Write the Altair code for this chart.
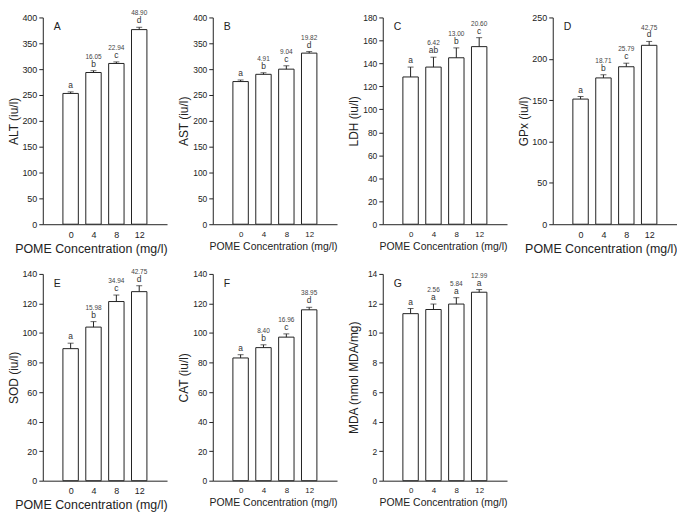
import altair as alt
import pandas as pd

conc = [0, 4, 8, 12]

panel_labels = ["A", "B", "C", "D", "E", "F", "G"]
y_titles = ["ALT (iu/l)", "AST (iu/l)", "LDH (iu/l)", "GPx (iu/l)",
            "SOD (iu/l)", "CAT (iu/l)", "MDA (nmol MDA/mg)"]
y_max = [400, 400, 180, 250, 140, 140, 14]
y_step = [50, 50, 20, 50, 20, 20, 2]

alt_mean = [253, 293.5, 311, 376.5]
alt_upper = [256, 297, 314, 381]
ast_mean = [276, 290, 300, 331]
ast_upper = [279, 293, 306.5, 334]
ldh_mean = [128.2, 136.8, 144.9, 154.6]
ldh_upper = [136.8, 145.4, 153.5, 162.4]
gpx_mean = [151.3, 176.9, 190.4, 216.3]
gpx_upper = [154.4, 180.7, 194.7, 221]
sod_mean = [89.4, 104, 121.3, 128]
sod_upper = [93.1, 107.7, 125.7, 132]
cat_mean = [83.1, 90.1, 97.2, 115.7]
cat_upper = [85.3, 92, 99.4, 117.4]
mda_mean = [11.31, 11.59, 11.96, 12.76]
mda_upper = [11.66, 11.96, 12.39, 12.94]

letters = [
    ["a", "b", "c", "d"],
    ["a", "b", "c", "d"],
    ["a", "ab", "b", "c"],
    ["a", "b", "c", "d"],
    ["a", "b", "c", "d"],
    ["a", "b", "c", "d"],
    ["a", "a", "a", "a"],
]
pcts = [
    ["", "16.05", "22.94", "48.90"],
    ["", "4.91", "9.04", "19.82"],
    ["", "6.42", "13.00", "20.60"],
    ["", "18.71", "25.79", "42.75"],
    ["", "15.98", "34.94", "42.75"],
    ["", "8.40", "16.96", "38.95"],
    ["", "2.56", "5.84", "12.99"],
]
means = [alt_mean, ast_mean, ldh_mean, gpx_mean, sod_mean, cat_mean, mda_mean]
uppers = [alt_upper, ast_upper, ldh_upper, gpx_upper, sod_upper, cat_upper, mda_upper]
big_text = [True, False, False, True, True, False, False]

FONT = "Liberation Sans"
INK = "#222222"
W, H = 125, 208


def panel(i):
    df = pd.DataFrame({
        "conc": conc,
        "mean": means[i],
        "upper": uppers[i],
        "letter": letters[i],
        "pct": pcts[i],
    })
    big = big_text[i]
    xscale = alt.Scale(domain=[-4, 16], nice=False, zero=False)
    yscale = alt.Scale(domain=[0, y_max[i]], nice=False)
    xaxis = alt.Axis(
        title="POME Concentration (mg/l)", values=conc, format="d",
        ticks=False, grid=False, labelPadding=6,
        labelFontSize=9 if big else 8, titleFontSize=12.5 if big else 10.5,
        titleFontWeight="normal", titleAnchor="end", titlePadding=3,
        labelFont=FONT, titleFont=FONT, domainColor=INK, labelColor=INK,
        titleColor=INK, labelFlush=False,
    )
    yaxis = alt.Axis(
        title=y_titles[i], values=list(range(0, y_max[i] + 1, y_step[i])),
        tickSize=4, labelPadding=2, grid=False,
        labelFontSize=9 if big else 8.5, titleFontSize=12,
        titleFontWeight="normal", titlePadding=2,
        minExtent=20, maxExtent=20,
        labelFont=FONT, titleFont=FONT, domainColor=INK, tickColor=INK,
        labelColor=INK, titleColor=INK,
    )
    x = alt.X("conc:Q", scale=xscale, axis=xaxis)
    base = alt.Chart(df)
    bars = base.mark_bar(size=15.5, fill="white", stroke=INK, strokeWidth=1,
                         orient="vertical").encode(
        x=x, y=alt.Y("mean:Q", scale=yscale, axis=yaxis))
    err = base.mark_rule(color=INK, strokeWidth=1).encode(
        x=x, y=alt.Y("mean:Q", scale=yscale, axis=yaxis), y2="upper:Q")
    cap = base.mark_tick(orient="horizontal", size=6, thickness=1, color=INK).encode(
        x=x, y=alt.Y("upper:Q", scale=yscale, axis=yaxis))
    let = base.mark_text(baseline="bottom", dy=-2, fontSize=8.5, font=FONT,
                         color="#333333").encode(
        x=x, y=alt.Y("upper:Q", scale=yscale, axis=yaxis), text="letter:N")
    pct = base.mark_text(baseline="bottom", dy=-11, fontSize=6.5, font=FONT,
                         color="#444444").encode(
        x=x, y=alt.Y("upper:Q", scale=yscale, axis=yaxis), text="pct:N")
    lab = alt.Chart(pd.DataFrame({"lab": [panel_labels[i]]})).mark_text(
        align="left", baseline="middle", fontSize=10.5, font=FONT, color=INK
    ).encode(x=alt.value(11), y=alt.value(10), text="lab:N")
    return alt.layer(bars, err, cap, let, pct, lab).properties(width=W, height=H)


chart = alt.concat(
    *[panel(i) for i in range(7)], columns=4,
    spacing={"row": 50, "column": 46}, bounds="flush"
).properties(padding=0).configure_view(stroke=None)

chart.save("out.html", embed_options={"renderer": "svg", "actions": False})
